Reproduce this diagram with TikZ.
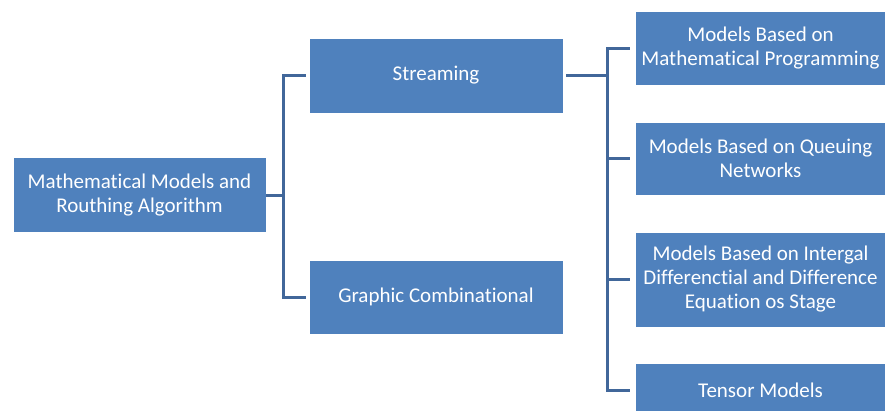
\documentclass[tikz,border=0pt]{standalone}
\usepackage{fontspec}
\setmainfont{Carlito}[Ligatures=NoCommon]
\usepackage{tikz}
\definecolor{boxblue}{HTML}{4F81BD}
\definecolor{lineblue}{HTML}{41679A}
\tikzset{
    box/.style={draw=white, line width=0.6pt, fill=boxblue, text=white, align=center,
        inner sep=0pt, font=\fontsize{21}{24}\selectfont},
    conn/.style={draw=lineblue, line width=3pt}
}

\begin{document}
\begin{tikzpicture}[x=1pt, y=-1pt]
    \clip (0,0) rectangle (885,410);
    \node[box, minimum width=253pt, minimum height=75pt](root) at (139.5,195) {Mathematical Models and\\Routhing Algorithm};
    \node[box, minimum width=254pt, minimum height=75pt](str)  at (436,75.5) {Streaming};
    \node[box, minimum width=254pt, minimum height=74pt](gra)  at (436,297) {Graphic Combinational};
    \node[box, minimum width=251pt, minimum height=74pt](m1)   at (760.5,48) {Models Based on\\Mathematical Programming};
    \node[box, minimum width=251pt, minimum height=73pt](m2)   at (760.5,158.5) {Models Based on Queuing\\Networks};
    \node[box, minimum width=251pt, minimum height=95pt](m3)   at (760.5,279.5) {Models Based on Intergal\\Differenctial and Difference\\Equation os Stage};
    \node[box, minimum width=251pt, minimum height=54pt](m4)   at (760.5,390) {Tensor Models};
    % bracket joints
    \coordinate (lj) at (283,195);
    \coordinate (rj) at (607,75.5);
    \draw[conn] (root.east) -- (lj);
    \draw[conn, shorten <=3pt] (str.west) -| (lj);
    \draw[conn, shorten <=3pt] (gra.west) -| (lj);
    \draw[conn, shorten <=3pt] (str.east) -- (rj);
    \draw[conn, shorten <=5pt] (m1.west) -| (rj);
    \draw[conn, shorten <=5pt] (m4.west) -| (rj);
    \draw[conn, shorten <=5pt] (m2.west) -- (m2.west -| rj);
    \draw[conn, shorten <=5pt] (m3.west) -- (m3.west -| rj);
\end{tikzpicture}
\end{document}
